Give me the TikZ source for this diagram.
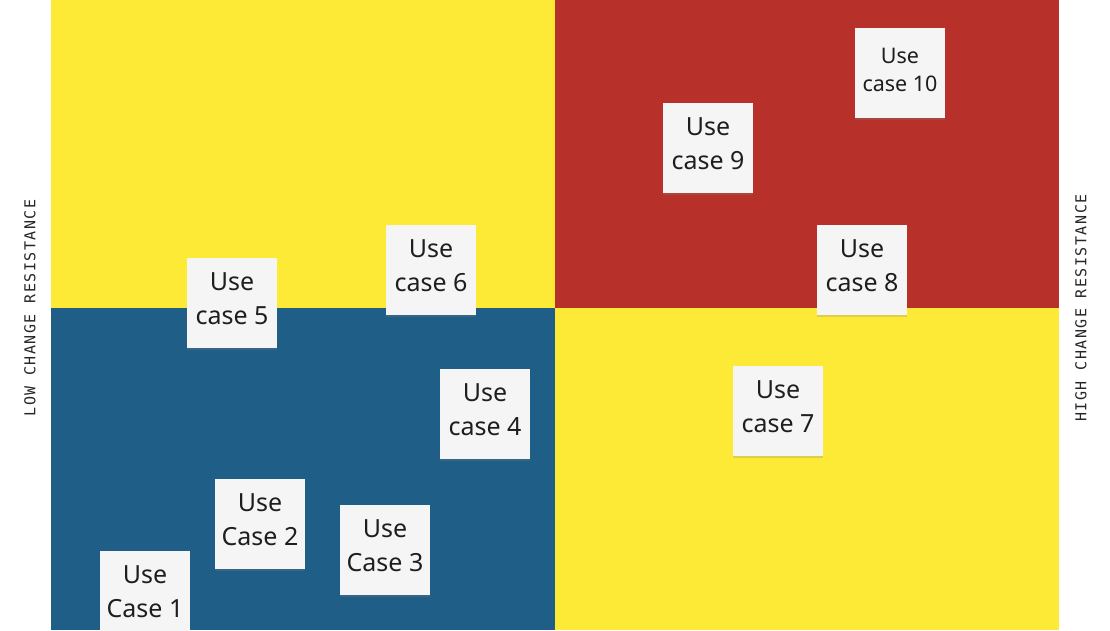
\documentclass[tikz,border=0pt]{standalone}
\usepackage{fontspec}
\setmainfont{Noto Sans}
\newfontfamily\labelfont[LetterSpace=10]{DejaVu Sans Mono}
\usetikzlibrary{shadows}
\definecolor{qyellow}{HTML}{FDEA36}
\definecolor{qred}{HTML}{B8302A}
\definecolor{qblue}{HTML}{1F5E87}
\definecolor{notebg}{HTML}{F5F5F5}
\definecolor{notetext}{HTML}{1E1E1E}
\tikzset{
  note/.style={fill=notebg, minimum width=90pt, minimum height=90pt, inner sep=0pt,
    drop shadow={shadow xshift=0pt, shadow yshift=-2pt, opacity=0.25}},
  notetxt/.style={text=notetext, align=center, inner sep=0pt},
  axislabel/.style={font=\labelfont\fontsize{15}{18}\selectfont, text=black!85, rotate=90}
}
\newcommand{\usenote}[3]{%
  \node[note] (#1) at (#2) {};
  \node[notetxt, font=\fontsize{25}{34}\selectfont] (#1t) at ([yshift=4pt]#1.center) {#3};}
\begin{document}
\begin{tikzpicture}[x=1pt,y=-1pt]
\useasboundingbox (0,0) rectangle (1110,630);
\fill[white] (0,0) rectangle (1110,630);
\fill[qyellow] (51,0) rectangle (555,308);
\fill[qred] (555,0) rectangle (1059,308);
\fill[qblue] (51,308) rectangle (555,630);
\fill[qyellow] (555,308) rectangle (1059,630);
\node[axislabel] (low) at (30,308) {LOW CHANGE RESISTANCE};
\node[axislabel] (high) at (1081,308) {HIGH CHANGE RESISTANCE};
\begin{scope}
\clip (0,0) rectangle (1110,630);
\usenote{u1}{145,596}{Use\\Case 1}
\usenote{u2}{260,524}{Use\\Case 2}
\usenote{u3}{385,550}{Use\\Case 3}
\usenote{u4}{485,414}{Use\\case 4}
\usenote{u5}{232,303}{Use\\case 5}
\usenote{u6}{431,270}{Use\\case 6}
\usenote{u7}{778,411}{Use\\case 7}
\usenote{u8}{862,270}{Use\\case 8}
\usenote{u9}{708,148}{Use\\case 9}
\node[note] (u10) at (900,73) {};
\node[notetxt, font=\fontsize{21.5}{28}\selectfont] (u10t) at ([yshift=3pt]u10.center) {Use\\case 10};
\end{scope}
\end{tikzpicture}
\end{document}
